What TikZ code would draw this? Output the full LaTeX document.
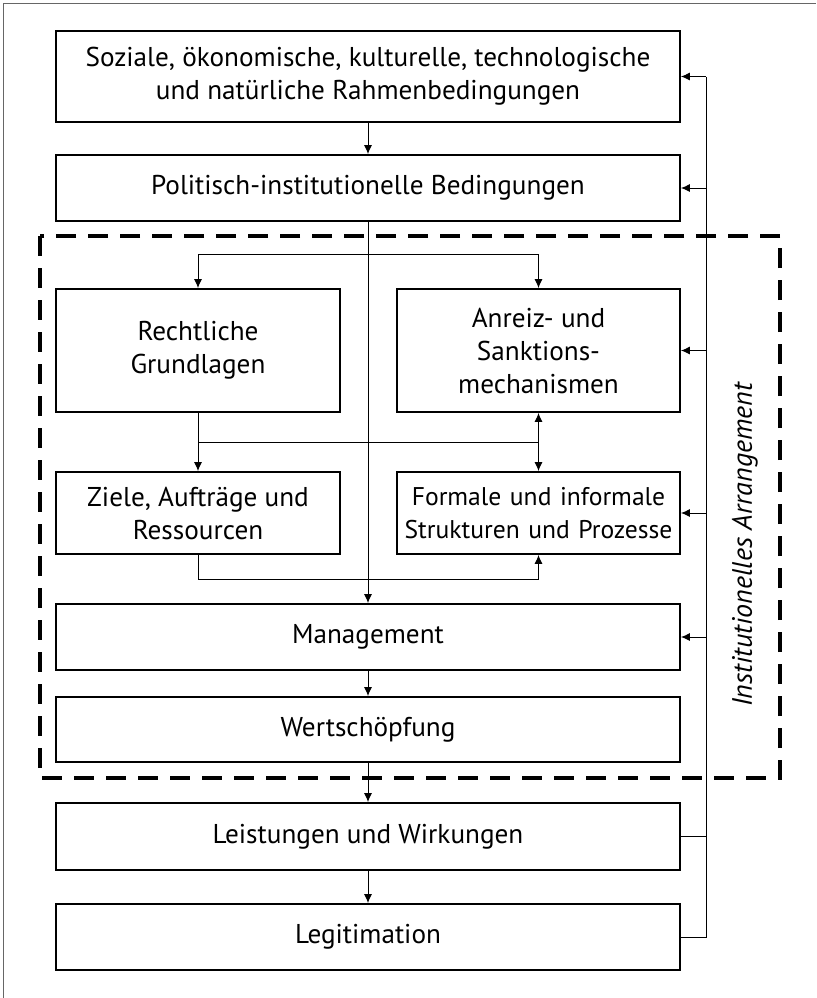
\documentclass[tikz,border=0pt]{standalone}
\usepackage{fontspec}
\setmainfont{PT Sans}
\usetikzlibrary{arrows.meta}
\tikzset{every path/.style={line width=0.5pt}, box/.style={draw, line width=0.9pt, align=center, inner sep=0pt, font=\fontsize{13.6}{16.5}\selectfont}, link/.style={-{Latex[length=4.5pt,width=4pt]}}}

\begin{document}
\begin{tikzpicture}[x=0.5pt, y=-0.5pt]
  \useasboundingbox (0,0) rectangle (816,998);
  \draw[gray!80!black] (3,998) -- (3,3) -- (816,3);
  % boxes
  \node[box, minimum width=312pt, minimum height=45.5pt] (soz) at (368,76.5) {Soziale, ökonomische, kulturelle, technologische\\und natürliche Rahmenbedingungen};
  \node[box, minimum width=312pt, minimum height=33pt] (pol) at (368,188) {Politisch-institutionelle Bedingungen};
  \node[box, minimum width=142pt, minimum height=61.5pt] (recht) at (198,350.5) {Rechtliche\\Grundlagen};
  \node[box, minimum width=141.5pt, minimum height=61.5pt] (anreiz) at (538.5,350.5) {Anreiz- und\\Sanktions-\\mechanismen};
  \node[box, minimum width=142pt, minimum height=41pt] (ziele) at (198,513) {Ziele, Aufträge und\\Ressourcen};
  \node[box, minimum width=141.5pt, minimum height=41pt, text width=139pt, font=\fontsize{12.8}{16.5}\selectfont] (formal) at (538.5,513) {Formale und informale\\Strukturen und Prozesse};
  \node[box, minimum width=312pt, minimum height=33pt] (mgmt) at (368,637) {Management};
  \node[box, minimum width=312pt, minimum height=32.5pt] (wert) at (368,729.5) {Wertschöpfung};
  \node[box, minimum width=312pt, minimum height=33.5pt] (leist) at (368,836.5) {Leistungen und Wirkungen};
  \node[box, minimum width=312pt, minimum height=33pt] (legit) at (368,937) {Legitimation};
  % institutional frame
  \draw[line width=2pt, dash pattern=on 10pt off 6pt] (40,236) rectangle (780,778);
  \node[rotate=90, font=\fontsize{14}{16.5}\selectfont\itshape] (arr) at (745,545) {Institutionelles Arrangement};
  % main flow
  \coordinate (split) at (368,254);
  \coordinate (hub) at (368,442);
  \coordinate (loop) at (368,579);
  \coordinate (rail) at (706,0);
  \draw[link] (soz) -- (pol);
  \draw[link] (pol) -- (mgmt);
  \draw[link] (split) -| (recht);
  \draw[link] (split) -| (anreiz);
  \draw[link] (recht) -- (ziele);
  \draw (recht.south |- hub) -- (anreiz.south |- hub);
  \draw[{Latex[length=4.5pt,width=4pt]}-{Latex[length=4.5pt,width=4pt]}] (anreiz) -- (formal);
  \draw[link] (ziele.south) |- (loop) -| (formal.south);
  \draw[link] (mgmt) -- (wert);
  \draw[link] (wert) -- (leist);
  \draw[link] (leist) -- (legit);
  % feedback
  \draw (legit.east) -- (legit.east -| rail) -- (soz.east -| rail);
  \draw (leist.east) -- (leist.east -| rail);
  \foreach \n in {soz,pol,anreiz,formal,mgmt}
    \draw[link] (\n.east -| rail) -- (\n.east);
\end{tikzpicture}
\end{document}
